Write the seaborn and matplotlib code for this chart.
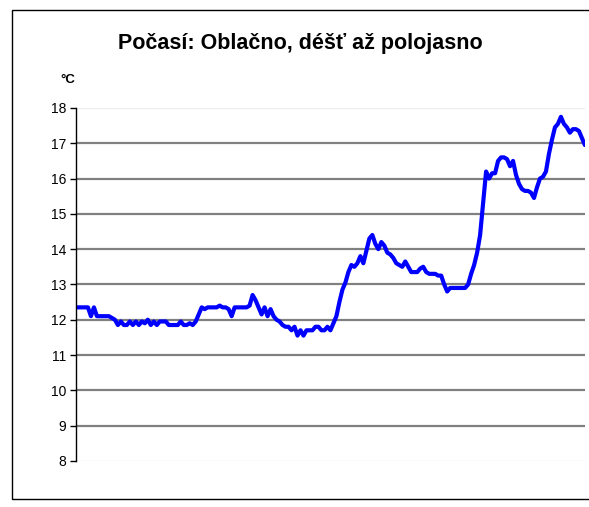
import numpy as np
import pandas as pd
import matplotlib
matplotlib.use("Agg")
import matplotlib.pyplot as plt
import seaborn as sns
from matplotlib.patches import Rectangle

# ================= DATA =================
TITLE = "Počasí: Oblačno, déšť až polojasno"
UNIT = "°C"

y_ticks = [8, 9, 10, 11, 12, 13, 14, 15, 16, 17, 18]

# temperature readings, equal time steps
temps = [
    12.35, 12.35, 12.35, 12.35, 12.35, 12.1, 12.35, 12.1, 12.1, 12.1,
    12.1, 12.1, 12.05, 12.0, 11.85, 11.95, 11.85, 11.85, 11.95, 11.85,
    11.95, 11.85, 11.95, 11.9, 12.0, 11.85, 11.95, 11.85, 11.95, 11.95,
    11.95, 11.85, 11.85, 11.85, 11.85, 11.95, 11.85, 11.85, 11.9, 11.85,
    11.95, 12.15, 12.35, 12.3, 12.35, 12.35, 12.35, 12.35, 12.4, 12.35,
    12.35, 12.3, 12.1, 12.35, 12.35, 12.35, 12.35, 12.35, 12.4, 12.7,
    12.55, 12.35, 12.15, 12.35, 12.1, 12.3, 12.1, 12.0, 11.95, 11.85,
    11.8, 11.8, 11.7, 11.8, 11.55, 11.7, 11.55, 11.7, 11.7, 11.7,
    11.8, 11.8, 11.7, 11.7, 11.8, 11.7, 11.9, 12.1, 12.5, 12.85,
    13.05, 13.35, 13.55, 13.5, 13.6, 13.8, 13.6, 13.95, 14.3, 14.4,
    14.15, 14.0, 14.2, 14.1, 13.9, 13.85, 13.75, 13.6, 13.55, 13.5,
    13.65, 13.5, 13.35, 13.35, 13.35, 13.45, 13.5, 13.35, 13.3, 13.3,
    13.3, 13.25, 13.25, 13.0, 12.8, 12.9, 12.9, 12.9, 12.9, 12.9,
    12.9, 13.0, 13.3, 13.55, 13.9, 14.4, 15.3, 16.2, 16.0, 16.15,
    16.15, 16.5, 16.6, 16.6, 16.55, 16.35, 16.5, 16.1, 15.85, 15.7,
    15.65, 15.65, 15.6, 15.45, 15.75, 16.0, 16.05, 16.2, 16.7, 17.1,
    17.45, 17.55, 17.75, 17.55, 17.45, 17.3, 17.4, 17.4, 17.35, 17.15,
    16.95,
]

df = pd.DataFrame({"step": np.arange(len(temps)), "temp": temps})

# ================= STYLE =================
sns.set_style("white")
plt.rcParams["font.family"] = ["Liberation Sans", "DejaVu Sans"]
plt.rcParams["text.color"] = "black"
plt.rcParams["ytick.color"] = "black"
plt.rcParams["ytick.labelcolor"] = "black"

fig = plt.figure(figsize=(5.89, 5.07), dpi=100)
ax = fig.add_axes([0.129, 0.091, 0.864, 0.696])

# outer frame
fig.patches.append(Rectangle((0.0204, 0.0158), 1.05, 0.9645,
                             transform=fig.transFigure, fill=False,
                             edgecolor="black", linewidth=1.0))

# ================= PLOT =================
sns.lineplot(data=df, x="step", y="temp", ax=ax, color="#0000ff",
             linewidth=3.0, legend=False)

ax.set_xlim(0, len(temps) - 1)
ax.set_ylim(y_ticks[0], y_ticks[-1])
ax.set_yticks(y_ticks)
ax.set_xticks([])
ax.set_xlabel("")
ax.set_ylabel("")

ax.grid(axis="y", color="#808080", linewidth=1.6)
ax.set_axisbelow(True)
grid = ax.get_ygridlines()
grid[0].set_color("#eeeeee")
grid[0].set_linewidth(1.0)
grid[-1].set_color("#eeeeee")
grid[-1].set_linewidth(1.0)

for side in ["top", "right", "bottom"]:
    ax.spines[side].set_visible(False)
ax.spines["left"].set_color("black")
ax.spines["left"].set_linewidth(1.0)

ax.tick_params(axis="y", direction="out", length=4, width=1,
               color="black", labelcolor="black", labelsize=10, pad=3,
               left=True)

fig.text(0.51, 0.915, TITLE, ha="center", va="center",
         fontsize=15.5, fontweight="bold", color="black")
fig.text(0.115, 0.842, UNIT, ha="center", va="center",
         fontsize=9.5, fontweight="bold", color="black")

fig.savefig("out.png", dpi=100)
plt.close(fig)
